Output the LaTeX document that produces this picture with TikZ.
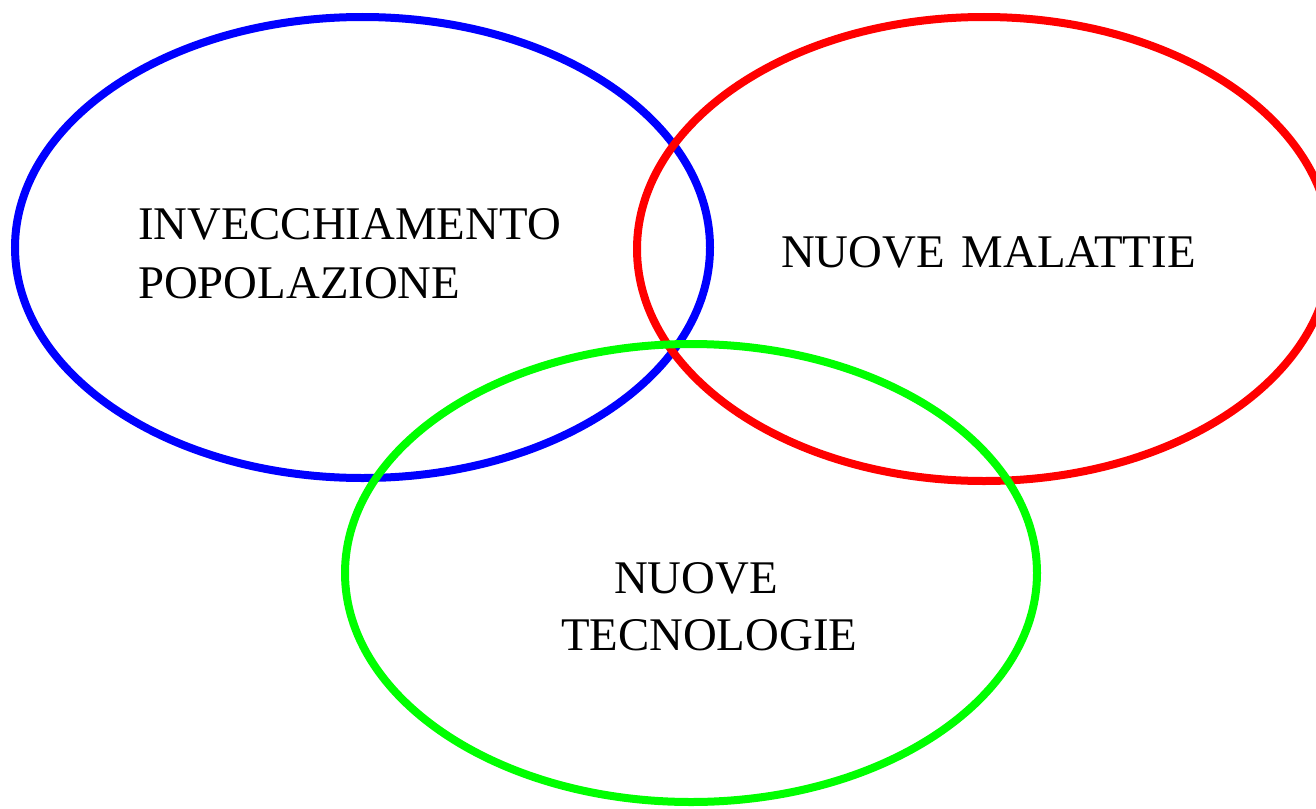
\documentclass[tikz,border=0pt]{standalone}
\usepackage{fontspec}
\setmainfont{Liberation Serif}
\begin{document}
\begin{tikzpicture}[x=1pt,y=-1pt,
  ring/.style={line width=8pt},
  lbl/.style={inner sep=0pt,outer sep=0pt,font=\fontsize{46.8}{55}\selectfont,text=black,anchor=base west}]
\useasboundingbox (0,0) rectangle (1316,808);
\draw[ring,color={rgb,255:red,0;green,0;blue,255}] (362.5,247.5) ellipse [x radius=347.5, y radius=230.5];
\draw[ring,color={rgb,255:red,255;green,0;blue,0}] (984,249) ellipse [x radius=347, y radius=232];
\draw[ring,color={rgb,255:red,0;green,255;blue,0}] (691,573) ellipse [x radius=346, y radius=229];
\node[lbl] (inv1) at (138,239) {INVECCHIAMENTO};
\node[lbl] (inv2) at (138,298) {POPOLAZIONE};
\node[lbl] (mal) at (781,267.5) {NUOVE\hspace{17pt}MALATTIE};
\node[lbl] (tec1) at (614,593) {NUOVE};
\node[lbl] (tec2) at (561,650) {TECNOLOGIE};
\end{tikzpicture}
\end{document}
